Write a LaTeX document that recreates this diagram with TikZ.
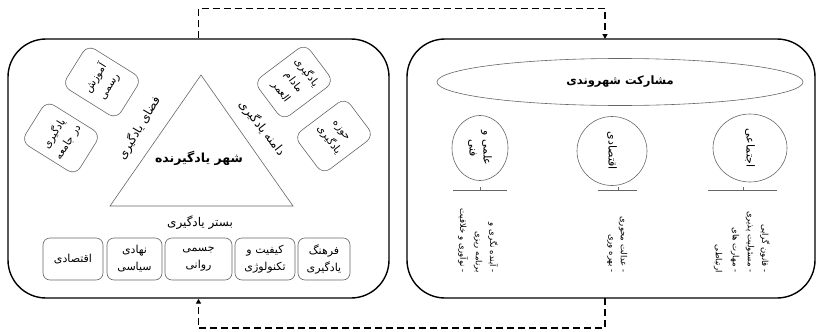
\documentclass[tikz,border=0pt]{standalone}
\usepackage{fontspec}
\TeXXeTstate=1
\newfontfamily\fa[Script=Arabic]{DejaVu Sans}
\newcommand{\rl}[1]{\beginR #1\endR}
\usetikzlibrary{arrows.meta,shapes.geometric}
\begin{document}
\begin{tikzpicture}[x=1pt,y=-1pt,
  outer/.style={draw=black,line width=1.4pt,rounded corners=38pt,inner sep=0pt},
  conn/.style={draw=black,line width=1.4pt,dash pattern=on 7pt off 4pt},
  tip/.style={-{Triangle[length=5pt,width=5pt]}},
  thin/.style={draw=black!60,line width=0.6pt},
  ibox/.style={thin,rounded corners=7pt,align=center,inner sep=1pt,font=\fa\fontsize{11}{17}\selectfont},
  rbox/.style={ibox,minimum width=48pt,minimum height=64pt,rounded corners=9pt,font=\fa\fontsize{10.5}{16}\selectfont},
  lbl/.style={font=\fa\fontsize{12}{14}\selectfont,inner sep=0pt},
  ctxt/.style={font=\fa\fontsize{11}{14}\selectfont,align=center,rotate=-90,inner sep=0pt},
  ltxt/.style={font=\fa\fontsize{8.5}{10}\selectfont,rotate=-90,anchor=east,inner sep=0pt},
]
\useasboundingbox (0,0) rectangle (820,332);
% outer boxes
\node[outer,minimum width=381pt,minimum height=259pt] (L) at (198.5,168.5) {};
\node[outer,minimum width=408pt,minimum height=259pt] (R) at (611,168.5) {};
\coordinate (Rtop) at (605,39);
\coordinate (Rbot) at (605,298);
\draw[conn,tip] (L.north) -- ++(0,-30) -| (Rtop);
\draw[conn,tip] (Rbot) -- ++(0,30) -| (L.south);
% left box
\draw[thin] (201,75) coordinate (ta) -- (293,206) coordinate (tr) -- (110,206) coordinate (tl) -- cycle;
\node[font=\fa\bfseries\fontsize{12.5}{14}\selectfont] (city) at (199,158) {\rl{شهر یادگیرنده}};
\node[lbl] (bed) at (200,223) {\rl{بستر یادگیری}};
\node[ibox,minimum width=60pt,minimum height=42pt] (b1) at (73,259) {\rl{اقتصادی}};
\node[ibox,minimum width=55pt,minimum height=42pt] (b2) at (134.5,259) {\rl{نهادی}\\\rl{سیاسی}};
\node[ibox,minimum width=67pt,minimum height=42pt] (b3) at (198.5,259) {\rl{جسمی}\\\rl{روانی}};
\node[ibox,minimum width=60pt,minimum height=42pt] (b4) at (265,259) {\rl{کیفیت و}\\\rl{تکنولوژی}};
\node[ibox,minimum width=52pt,minimum height=42pt] (b5) at (324,259) {\rl{فرهنگ}\\\rl{یادگیری}};
\node[rbox,rotate=58] (s1) at (102,82) {\rl{آموزش}\\\rl{رسمی}};
\node[rbox,rotate=58] (s2) at (61,138) {\rl{یادگیری}\\\rl{در جامعه}};
\node[rbox,rotate=-53] (s3) at (294,82) {\rl{یادگیری}\\\rl{مادام}\\\rl{العمر}};
\node[rbox,rotate=-53] (s4) at (334,136) {\rl{حوزه}\\\rl{یادگیری}};
\node[lbl,rotate=59] (sp) at (139,128) {\rl{فضای یادگیری}};
\node[lbl,rotate=-52] (dm) at (262,128) {\rl{دامنه یادگیری}};
% right box
\node[thin,ellipse,minimum width=366pt,minimum height=47pt,inner sep=0pt] (part) at (620,82) {};
\node[font=\fa\bfseries\fontsize{11.5}{13}\selectfont] (partt) at (620,82) {\rl{مشارکت شهروندی}};
\node[thin,ellipse,minimum width=56pt,minimum height=65pt,inner sep=0pt] (c1) at (480,148) {};
\node[thin,ellipse,minimum width=70pt,minimum height=69pt,inner sep=0pt] (c2) at (612,151) {};
\node[thin,ellipse,minimum width=74pt,minimum height=68pt,inner sep=0pt] (c3) at (750,148) {};
\node[ctxt] (c1t) at (c1) {\rl{علمی و}\\\rl{فنی}};
\node[ctxt] (c2t) at (c2) {\rl{اقتصادی}};
\node[ctxt] (c3t) at (c3) {\rl{اجتماعی}};
\draw[thin] (453,190) -- (507,190) (480,190) -- (480,187);
\draw[thin] (598,190) -- (637,190) (618,190) -- (618,187);
\draw[thin] (708,190) -- (777,190) (743,190) -- (743,187);
% lists
\node[ltxt] (r1) at (765,273) {\rl{- قانون گرایی}};
\node[ltxt] (r2) at (750,273) {\rl{- مسئولیت پذیری}};
\node[ltxt] (r3) at (735,273) {\rl{- مهارت های}};
\node[ltxt] (r4) at (718,273) {\rl{ارتباطی}};
\node[ltxt] (m1) at (623,273) {\rl{- عدالت محوری}};
\node[ltxt] (m2) at (610,273) {\rl{- بهره وری}};
\node[ltxt] (l1) at (493,273) {\rl{- آینده نگری و}};
\node[ltxt] (l2) at (478,273) {\rl{برنامه ریزی}};
\node[ltxt] (l3) at (463,273) {\rl{- نوآوری و خلاقیت}};
\end{tikzpicture}
\end{document}
